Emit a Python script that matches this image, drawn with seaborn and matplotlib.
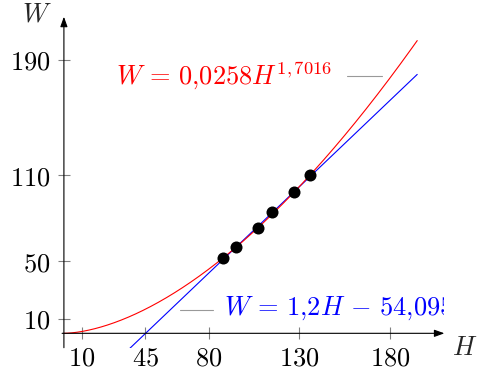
import numpy as np
import pandas as pd
import matplotlib
matplotlib.use("Agg")
import matplotlib.pyplot as plt
import seaborn as sns

# Observed data
H_obs = [88, 95, 107, 115, 127, 136]
W_obs = [52, 60, 73, 84, 98, 110]

# Fitted models
pow_a, pow_b = 0.0258, 1.7016
lin_m, lin_c = 1.2, -54.095

x_ticks = [10, 45, 80, 130, 180]
y_ticks = [10, 50, 110, 190]
red_label = r"$W\,=\,0{,}0258H^{1{,}\,7016}$"
blue_label = r"$W\,=\,1{,}2H\,-\,54{,}095$"

FS = 19

sns.set_theme(style="white")
plt.rcParams["mathtext.fontset"] = "cm"
plt.rcParams["font.family"] = ["DejaVu Serif"]

fig = plt.figure(figsize=(4.78, 3.69), dpi=100)
ax = fig.add_axes([0.1299, 0.0577, 0.7998, 0.897])

Hgrid = np.linspace(0, 195, 400)
curves = pd.DataFrame({
    "H": Hgrid,
    "Wpow": pow_a * Hgrid ** pow_b,
    "Wlin": lin_m * Hgrid + lin_c,
})
sns.lineplot(data=curves, x="H", y="Wlin", color="blue", lw=0.8, ax=ax)
sns.lineplot(data=curves, x="H", y="Wpow", color="red", lw=0.8, ax=ax)
sns.scatterplot(x=H_obs, y=W_obs, color="black", s=75, edgecolor="black",
                linewidth=0, ax=ax, zorder=5)

ax.set_xlim(-1, 210)
ax.set_ylim(-10, 220)
ax.set_xlabel("")
ax.set_ylabel("")
for s in ax.spines.values():
    s.set_visible(False)

# middle axis lines with arrows
ax.annotate("", xy=(210, 0), xytext=(-1, 0),
            arrowprops=dict(arrowstyle="-|>,head_length=0.5,head_width=0.18",
                            lw=0.8, color="black", shrinkA=0, shrinkB=0),
            annotation_clip=False)
ax.annotate("", xy=(0, 220), xytext=(0, -10),
            arrowprops=dict(arrowstyle="-|>,head_length=0.5,head_width=0.18",
                            lw=0.8, color="black", shrinkA=0, shrinkB=0),
            annotation_clip=False)

ax.set_xticks(x_ticks)
ax.set_xticklabels([f"${t}$" for t in x_ticks])
ax.set_yticks(y_ticks)
ax.set_yticklabels([f"${t}$" for t in y_ticks])
ax.tick_params(axis="both", direction="inout", length=9, width=0.8,
               color="0.5", labelsize=FS, labelcolor="black")
ax.tick_params(axis="x", pad=4, bottom=True)
ax.tick_params(axis="y", pad=5, left=True)
ax.spines["bottom"].set_position(("data", 0))
ax.spines["left"].set_position(("data", 0))

ax.text(-6.5, 216.5, r"$W$", ha="right", va="baseline", fontsize=FS,
        clip_on=False)
ax.text(214, -15, r"$H$", ha="left", va="baseline", fontsize=FS,
        clip_on=False)

# pins
ax.plot([156.1, 175.4], [178.8, 178.8], color="0.6", lw=0.8)
ax.text(29.0, 173.0, red_label, color="red", fontsize=FS,
        ha="left", va="baseline")
ax.plot([64.1, 82.5], [16.2, 16.2], color="0.6", lw=0.8)
ax.text(88.5, 12.7, blue_label, color="blue", fontsize=FS,
        ha="left", va="baseline", clip_on=True)

fig.savefig("out.png", dpi=100)
